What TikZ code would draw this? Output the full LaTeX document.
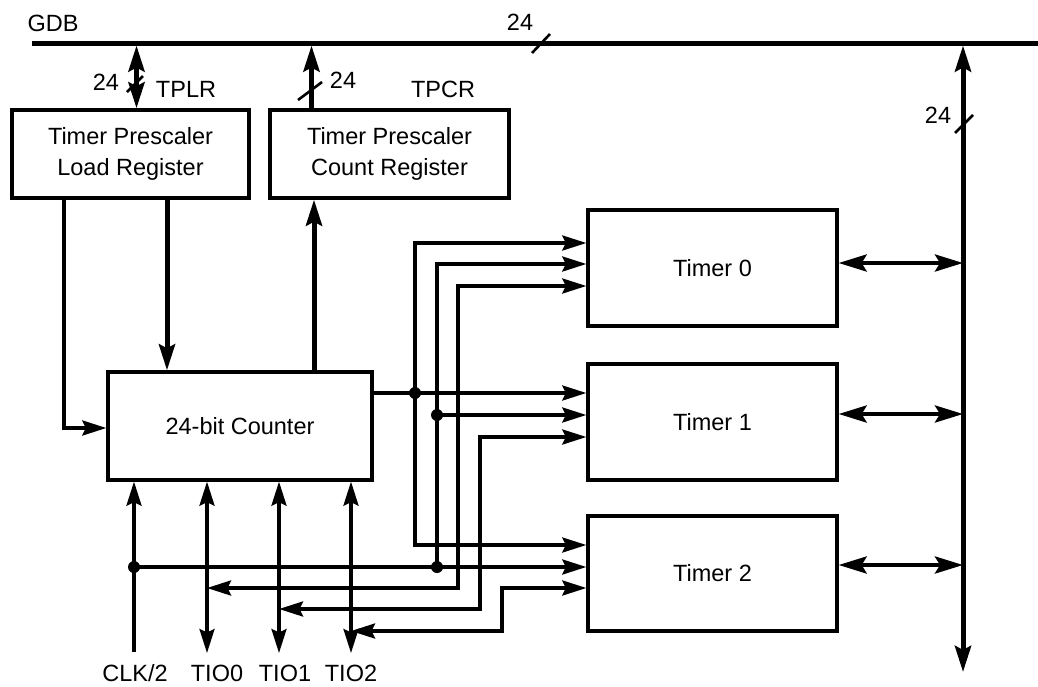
\documentclass[tikz,border=0pt]{standalone}
\usepackage{fontspec}
\setmainfont{Liberation Sans}
\usetikzlibrary{arrows.meta,calc}
\begin{document}
\begin{tikzpicture}[x=1pt,y=-1pt,
  font=\fontsize{23.5}{31}\selectfont,
  box/.style={draw, line width=3.3pt, inner sep=0pt, align=center},
  wire/.style={line width=3.3pt},
  thickw/.style={line width=5pt},
  busline/.style={line width=5pt},
  slash/.style={line width=2.6pt},
  ta/.style={-{Stealth[length=24pt,width=15pt,inset=3.5pt]}},
  tab/.style={{Stealth[length=24pt,width=15pt,inset=3.5pt]}-{Stealth[length=24pt,width=15pt,inset=3.5pt]}},
  tb/.style={-{Stealth[length=26pt,width=16pt,inset=4pt]}},
  tbb/.style={{Stealth[length=26pt,width=16pt,inset=4pt]}-{Stealth[length=26pt,width=16pt,inset=4pt]}},
  td/.style={{Stealth[length=28pt,width=17pt,inset=5pt]}-{Stealth[length=28pt,width=17pt,inset=5pt]}},
  dot/.style={fill, circle, inner sep=0pt, minimum size=12pt},
  lbl/.style={inner sep=0pt}
]
\useasboundingbox (0,0) rectangle (1038,686);

% boxes
\node[box, minimum width=237pt, minimum height=88pt] (tplr) at (130.5,154) {Timer Prescaler\\Load Register};
\node[box, minimum width=239pt, minimum height=88pt] (tpcr) at (389.5,154) {Timer Prescaler\\Count Register};
\node[box, minimum width=264pt, minimum height=108pt] (cnt) at (240,426) {24-bit Counter};
\node[box, minimum width=249pt, minimum height=116pt] (t0) at (712.5,268) {Timer 0};
\node[box, minimum width=249pt, minimum height=116pt] (t1) at (712.5,422) {Timer 1};
\node[box, minimum width=249pt, minimum height=115pt] (t2) at (712.5,573.5) {Timer 2};

% GDB bus
\coordinate (gdbL) at (32,43);
\coordinate (gdbR) at (1038,43);
\draw[busline] (gdbL) -- (gdbR);
\node[lbl] (gdb) at (53,23) {GDB};
\node[lbl] (n24a) at (520,22) {24};
\coordinate (s1a) at (532,53); \coordinate (s1b) at (550,34);
\draw[slash] (s1a) -- (s1b);

% right bus
\coordinate (rbT) at (963,45.5);
\coordinate (rbB) at (963,672);
\draw[busline, tbb] (rbT) -- (rbB);
\coordinate (s2a) at (955,133); \coordinate (s2b) at (973,115);
\draw[slash] (s2a) -- (s2b);
\node[lbl] (n24d) at (938,115) {24};

% TPLR <-> GDB
\coordinate (tplrT) at (136.5,45.5);
\draw[thickw, tbb] (tplrT) -- (tplr.north -| tplrT);
\coordinate (s3a) at (127,92); \coordinate (s3b) at (143,76);
\draw[slash] (s3a) -- (s3b);
\node[lbl] (n24b) at (106,82) {24};
\node[lbl] (ltplr) at (186,89) {TPLR};

% TPCR -> GDB
\coordinate (tpcrT) at (311.5,45.5);
\draw[thickw, tb] (tpcr.north -| tpcrT) -- (tpcrT);
\coordinate (s4a) at (298,100); \coordinate (s4b) at (322,82);
\draw[slash] (s4a) -- (s4b);
\node[lbl] (n24c) at (343,80) {24};
\node[lbl] (ltpcr) at (443,89) {TPCR};

% TPLR -> counter
\coordinate (lx) at (64,428);
\draw[wire, ta] (tplr.south -| lx) |- (cnt.west |- lx);
\coordinate (lt) at (167,300);
\draw[thickw, tb] (tplr.south -| lt) -- (cnt.north -| lt);
% counter -> TPCR
\coordinate (ct) at (314,300);
\draw[thickw, tb] (cnt.north -| ct) -- (tpcr.south -| ct);

% timer <-> right bus
\coordinate (b0) at (963,263);
\coordinate (b1) at (963,414);
\coordinate (b2) at (963,565);
\draw[line width=4pt, td] (t0.east |- b0) -- (b0);
\draw[line width=4pt, td] (t1.east |- b1) -- (b1);
\draw[line width=4pt, td] (t2.east |- b2) -- (b2);

% counter output distribution
\coordinate (j1) at (415,393);
\coordinate (a0) at (415,243);
\coordinate (a2) at (415,545);
\draw[wire, ta] (cnt.east |- j1) -- (t1.west |- j1);
\draw[wire, ta] (j1) -- (a0) -- (t0.west |- a0);
\draw[wire, ta] (j1) -- (a2) -- (t2.west |- a2);
\node[dot] (d1) at (j1) {};

% CLK/2
\coordinate (clkB) at (134,652);
\coordinate (j3) at (134,567);
\coordinate (j4) at (437,567);
\coordinate (j2) at (437,415);
\coordinate (b0l) at (437,264);
\draw[wire, ta] (clkB) -- (cnt.south -| clkB);
\draw[wire, ta] (j3) -- (t2.west |- j3);
\draw[wire, ta] (j4) -- (b0l) -- (t0.west |- b0l);
\draw[wire, ta] (j2) -- (t1.west |- j2);
\node[dot] (d3) at (j3) {};
\node[dot] (d4) at (j4) {};
\node[dot] (d2) at (j2) {};

% TIO lines
\coordinate (tio0B) at (207,653);
\coordinate (tio1B) at (279,653);
\coordinate (tio2B) at (351,653);
\draw[wire, tab] (cnt.south -| tio0B) -- (tio0B);
\draw[wire, tab] (cnt.south -| tio1B) -- (tio1B);
\draw[wire, tab] (cnt.south -| tio2B) -- (tio2B);

\coordinate (r0a) at (458,588); \coordinate (r0b) at (458,286);
\coordinate (r1a) at (480,609); \coordinate (r1b) at (480,437);
\coordinate (r2a) at (502,631); \coordinate (r2b) at (502,588);
\draw[wire, tab] (tio0B |- r0a) -- (r0a) -- (r0b) -- (t0.west |- r0b);
\draw[wire, tab] (tio1B |- r1a) -- (r1a) -- (r1b) -- (t1.west |- r1b);
\draw[wire, tab] (tio2B |- r2a) -- (r2a) -- (r2b) -- (t2.west |- r2b);

% bottom labels
\node[lbl] (lclk) at (135,673) {CLK/2};
\node[lbl] (ltio0) at (217,673) {TIO0};
\node[lbl] (ltio1) at (285,673) {TIO1};
\node[lbl] (ltio2) at (351,673) {TIO2};
\end{tikzpicture}
\end{document}
